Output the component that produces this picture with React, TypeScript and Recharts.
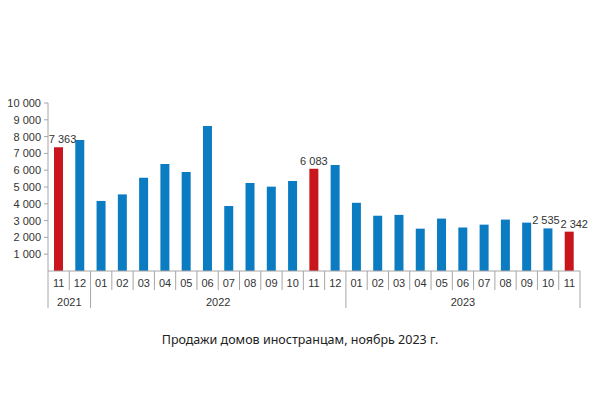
import React from 'react';
import { BarChart, Bar, XAxis, YAxis, Cell, LabelList } from 'recharts';

const months = [
  '11', '12',
  '01', '02', '03', '04', '05', '06', '07', '08', '09', '10', '11', '12',
  '01', '02', '03', '04', '05', '06', '07', '08', '09', '10', '11',
];
const sales = [
  7363, 7800,
  4170, 4560, 5550, 6370, 5900, 8630, 3870, 5240, 5020, 5360, 6083, 6310,
  4060, 3290, 3340, 2520, 3120, 2590, 2760, 3060, 2880, 2535, 2342,
];
const years = ['2021', '2022', '2023'];
const yearSpans = [2, 12, 11];
const redIdx = [0, 12, 24];
const labeledIdx = [0, 12, 23, 24];
const yTicks = [1000, 2000, 3000, 4000, 5000, 6000, 7000, 8000, 9000, 10000];

const W = 600;
const H = 399;
const X_H = 37;
const MARGIN = { top: 103, right: 20, bottom: 128 - X_H, left: 0 };
const Y_W = 48;
const STEP = (W - MARGIN.left - MARGIN.right - Y_W) / months.length;

const BLUE = '#0b7cc2';
const RED = '#c8161c';
const GRID = '#a6a6a6';
const TXT = '#333';
const FONT = '"Liberation Sans", Arial, sans-serif';

const data = months.map((m, i) => ({ m, v: sales[i], idx: i }));

const fmt = (n: number) => String(n).replace(/\B(?=(\d{3})+(?!\d))/g, ' ');

// group starts, for year labels and long separators
const groupStarts: number[] = [];
yearSpans.reduce((acc, n) => {
  groupStarts.push(acc);
  return acc + n;
}, 0);

function MonthTick(props: any) {
  const { x, y, payload } = props;
  const i: number = payload.index;
  const right = x + STEP / 2;
  const left = x - STEP / 2;
  const nextIsGroup = groupStarts.includes(i + 1) || i === months.length - 1;
  const g = groupStarts.indexOf(i);
  return (
    <g>
      {i === 0 && <line x1={left} x2={left} y1={y} y2={y + 37} stroke={GRID} />}
      <line x1={right} x2={right} y1={y} y2={nextIsGroup ? y + 37 : y + 19} stroke={GRID} />
      <text x={x} y={y + 16} textAnchor="middle" fontSize={11} fill={TXT} fontFamily={FONT}>
        {payload.value}
      </text>
      {g >= 0 && (
        <text
          x={x + ((yearSpans[g] - 1) * STEP) / 2}
          y={y + 35}
          textAnchor="middle"
          fontSize={11}
          fill={TXT}
          fontFamily={FONT}
        >
          {years[g]}
        </text>
      )}
    </g>
  );
}

function ValueLabel(props: any) {
  const { x, y, width, value, index } = props;
  if (!labeledIdx.includes(index)) return null;
  const dx = index === 0 ? 4 : index === 24 ? 5 : index === 23 ? -2 : 0;
  return (
    <text
      x={x + width / 2 + dx}
      y={y - 4}
      textAnchor="middle"
      fontSize={11}
      fill={TXT}
      fontFamily={FONT}
    >
      {fmt(value)}
    </text>
  );
}

export default function App() {
  return (
    <div style={{ position: 'absolute', left: 0, top: 0, width: W, height: H, background: '#fff' }}>
      <BarChart width={W} height={H} data={data} margin={MARGIN} barSize={9}>
        <XAxis
          dataKey="m"
          interval={0}
          height={X_H}
          tickLine={false}
          tickSize={0}
          tickMargin={0}
          axisLine={{ stroke: GRID }}
          tick={<MonthTick />}
        />
        <YAxis
          width={Y_W}
          domain={[0, 10000]}
          ticks={yTicks}
          interval={0}
          tickFormatter={fmt}
          tickSize={4}
          tickMargin={3}
          axisLine={{ stroke: GRID }}
          tickLine={{ stroke: GRID }}
          tick={{ fontSize: 11, fill: TXT, fontFamily: FONT }}
        />
        <Bar dataKey="v" isAnimationActive={false}>
          {data.map((d) => (
            <Cell key={d.idx} fill={redIdx.includes(d.idx) ? RED : BLUE} />
          ))}
          <LabelList dataKey="v" content={<ValueLabel />} />
        </Bar>
      </BarChart>
      <div
        style={{
          position: 'absolute',
          left: 0,
          top: 331,
          width: W,
          textAlign: 'center',
          fontFamily: '"Noto Sans", "Open Sans", sans-serif',
          fontSize: 12.5,
          color: '#222',
        }}
      >
        Продажи домов иностранцам, ноябрь 2023 г.
      </div>
    </div>
  );
}
